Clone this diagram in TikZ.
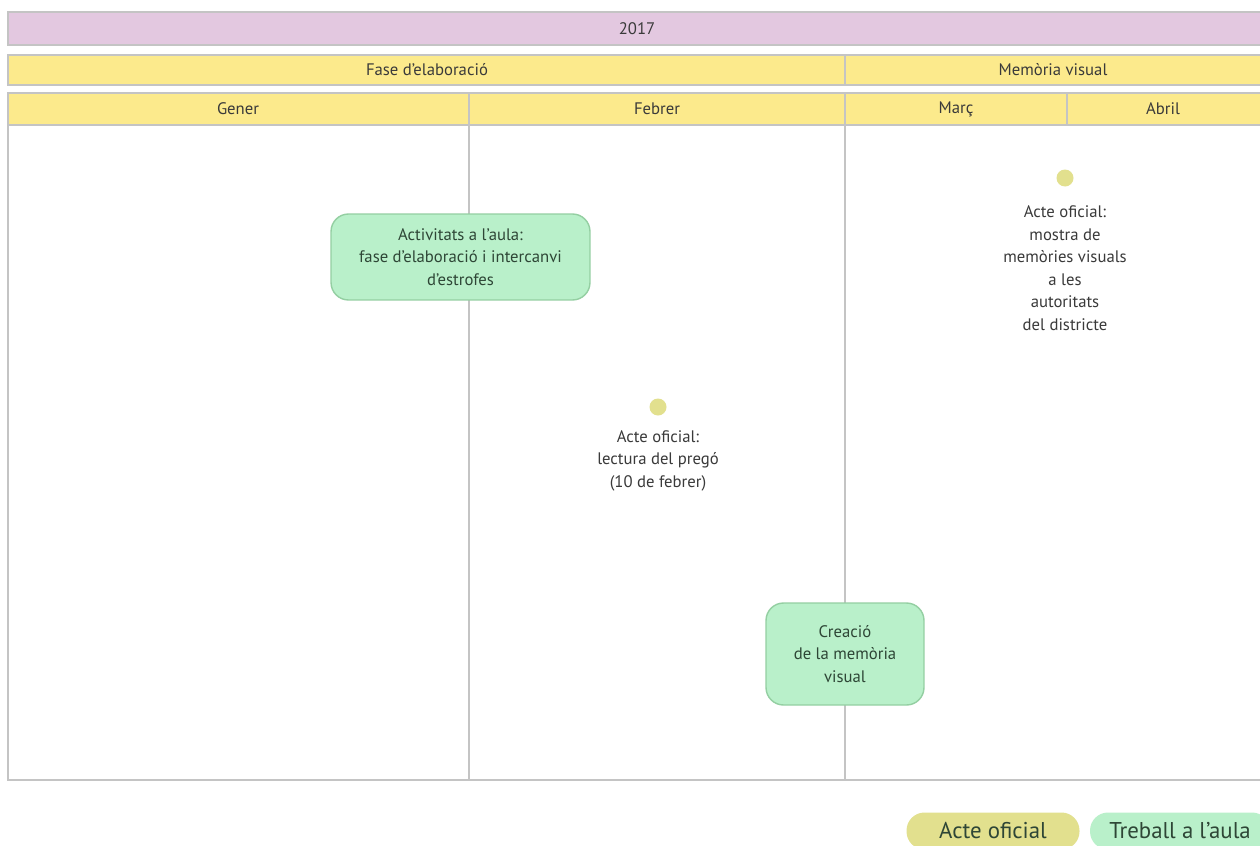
\documentclass[tikz,border=0pt]{standalone}
\usepackage{fontspec}
\setmainfont{PT Sans}
\usetikzlibrary{positioning}
\definecolor{lila}{HTML}{E3C8E0}
\definecolor{groc}{HTML}{FCEA8C}
\definecolor{verd}{HTML}{B9F0CA}
\definecolor{verdvora}{HTML}{94CFA2}
\definecolor{verdtext}{HTML}{2E4636}
\definecolor{punt}{HTML}{E2E08E}
\definecolor{ratlla}{HTML}{C4C4C4}
\definecolor{lletra}{HTML}{3A3A3A}

\begin{document}
\begin{tikzpicture}[x=0.02cm,y=-0.02cm,
    franja/.style={draw=ratlla, line width=0.9pt},
    titol/.style={text=lletra, font=\fontsize{9.5}{12}\selectfont},
    tasca/.style={draw=verdvora, fill=verd, line width=0.8pt, rounded corners=0.35cm,
      align=center, text=verdtext, font=\fontsize{9.5}{12.7}\selectfont, inner sep=2pt},
    fita/.style={circle, fill=punt, minimum size=0.34cm, inner sep=0pt},
    nota/.style={align=center, text=lletra, font=\fontsize{9.5}{12.8}\selectfont, inner sep=1pt},
    llegenda/.style={rounded corners=0.36cm, minimum height=0.74cm, text=verdtext,
      font=\fontsize{13}{15}\selectfont}]
      \useasboundingbox (0,0) rectangle (1260,845);
      \fill[white] (0,0) rectangle (1260,845);

      % capcalera
      \fill[lila, franja] (8,12) rectangle (1266,45);
      \fill[groc, franja] (8,55) rectangle (1266,85);
      \fill[groc, franja] (8,93) rectangle (1266,125);
      \draw[franja] (845,55) -- (845,85);
      \draw[franja] (1067,93) -- (1067,125);
      \node[titol] (any) at (637,29) {2017};
      \node[titol] (fase) at (427,70) {Fase d’elaboració};
      \node[titol] (memoria) at (1053,70) {Memòria visual};
      \node[titol] (gener) at (238,109) {Gener};
      \node[titol] (febrer) at (657,109) {Febrer};
      \node[titol] (marc) at (956,109) {Març};
      \node[titol] (abril) at (1163,109) {Abril};

      % cos
      \draw[franja] (1266,125) -- (8,125) -- (8,780) -- (1266,780);
      \draw[franja] (469,93) -- (469,780);
      \draw[franja] (845,93) -- (845,780);

      \node[tasca, minimum width=5.18cm, minimum height=1.72cm] (aula) at (460.5,257)
        {Activitats a l’aula:\\fase d’elaboració i intercanvi\\d’estrofes};
      \node[tasca, minimum width=3.16cm, minimum height=2.04cm] (creacio) at (845,654)
        {Creació\\de la memòria\\visual};

      \node[fita] (pregoPunt) at (658,407) {};
      \node[nota, below=0.25cm of pregoPunt] (prego)
        {Acte oficial:\\lectura del pregó\\(10 de febrer)};
      \node[fita] (mostraPunt) at (1065,178) {};
      \node[nota, below=0.34cm of mostraPunt] (mostra)
        {Acte oficial:\\mostra de\\memòries visuals\\a les\\autoritats\\del districte};

      % llegenda
      \node[llegenda, fill=punt, minimum width=3.46cm] (actes) at (993,831) {Acte oficial};
      \node[llegenda, fill=verd, minimum width=3.6cm] (treball) at (1180,831) {Treball a l’aula};
    \end{tikzpicture}
\end{document}
